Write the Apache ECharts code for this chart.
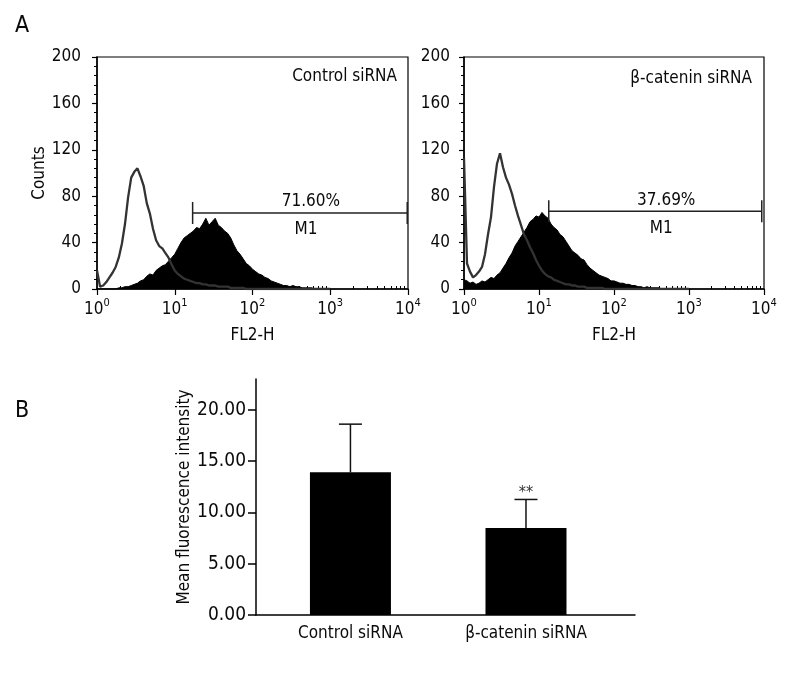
<!DOCTYPE html>
<html><head><meta charset="utf-8">
<script src="https://cdn.jsdelivr.net/npm/echarts@6/dist/echarts.min.js"></script>
<style>html,body{margin:0;padding:0;background:#fff}#c{width:800px;height:680px}</style>
</head><body><div id="c"></div>
<script>
// ---- data ----
// FL2-H bins, in log10 units (10^0 .. 10^3)
const logFL2 = [0,0.04,0.08,0.12,0.16,0.2,0.24,0.28,0.32,0.36,
  0.4,0.44,0.48,0.52,0.56,0.6,0.64,0.68,0.72,0.76,
  0.8,0.84,0.88,0.92,0.96,1,1.04,1.08,1.12,1.16,
  1.2,1.24,1.28,1.32,1.36,1.4,1.44,1.48,1.52,1.56,
  1.6,1.64,1.68,1.72,1.76,1.8,1.84,1.88,1.92,1.96,
  2,2.04,2.08,2.12,2.16,2.2,2.24,2.28,2.32,2.36,
  2.4,2.44,2.48,2.52,2.56,2.6,2.64,2.68,2.72,2.76,
  2.8,2.84,2.88,2.92,2.96,3];
// Control siRNA: open (isotype) and filled (stained) histograms
const ctrlOpen = [16,2,3,6,10,14,19,27,39,56,
  79,96,101,104,97,89,74,65,52,42,
  37,35,31,27,21,16,13,11,9,8,
  7,6,5,5,4,4,3,3,3,2,
  2,2,2,1,1,1,1,1,0,0,
  0,0,0,0,0,0,0,0,0,0,
  0,0,0,0,0,0,0,0,0,0,
  0,0,0,0,0,0];
const ctrlFilled = [0,0,0,0,0,0,0,1,1,2,
  2,3,4,5,7,8,11,13,12,16,
  18,20,21,24,27,30,35,40,44,46,
  48,50,53,52,56,61,55,58,61,55,
  53,50,48,44,38,33,30,26,22,20,
  17,15,13,12,10,9,7,6,5,4,
  3,3,2,3,2,2,1,1,1,1,
  0,0,0,0,0,0];
// beta-catenin siRNA
const catOpen = [113,22,15,10,12,15,19,30,47,62,
  88,108,117,105,96,90,82,72,63,55,
  47,42,36,31,25,20,16,13,11,10,
  8,7,6,5,4,4,3,3,2,2,
  2,1,1,1,1,1,1,0,0,0,
  0,0,0,0,0,0,0,0,0,0,
  0,0,0,0,0,0,0,0,0,0,
  0,0,0,0,0,0];
const catFilled = [8,7,5,6,4,5,7,6,8,10,
  9,12,14,18,22,27,31,37,41,45,
  49,53,58,60,63,62,66,63,61,56,
  53,51,47,45,41,37,33,31,29,26,
  25,21,18,16,14,12,11,10,9,7,
  7,6,5,5,4,4,3,3,2,2,
  1,2,1,1,1,1,0,0,0,0,
  0,0,0,0,0,0];
const panelNames = ['Control siRNA', 'β-catenin siRNA'];
// M1 gate: [from (log10), to (log10), counts level]
const m1Ranges = [[1.23, 3.99, 65.5], [1.13, 3.97, 67]];
const m1Percents = ['71.60%', '37.69%'];
const histYTicks = [0, 40, 80, 120, 160, 200];
const histXExponents = ['0', '1', '2', '3', '4'];
// Panel B
const barCategories = ['Control siRNA', 'β-catenin siRNA'];
const barMeans = [13.9, 8.48];
const barErrors = [4.7, 2.78];
const barSig = ['', '**'];
const barYTicks = [0, 5, 10, 15, 20];

// ---- chart ----
const FONT = '"Liberation Sans Narrow","DejaVu Sans Condensed","Liberation Sans",sans-serif';
const TXT = '#0a0a0a';
const minorTicks = [];
for (let d = 0; d < 4; d++) for (let k = 2; k <= 9; k++) minorTicks.push(d + Math.log10(k));
const axisLS = {color: '#000', width: 1.5};

const grids = [
  {left: 97, top: 57, width: 311, height: 232, show: true, borderColor: '#000', borderWidth: 1.2},
  {left: 464, top: 57, width: 300, height: 232, show: true, borderColor: '#000', borderWidth: 1.2},
  {left: 256, top: 379, width: 379, height: 236}
];
const xAxes = [], yAxes = [], series = [];
const histData = [[ctrlOpen, ctrlFilled], [catOpen, catFilled]];
[0, 1].forEach(p => {
  xAxes.push({type: 'value', gridIndex: p, min: 0, max: 4, interval: 1,
    axisLine: {onZero: false, lineStyle: axisLS},
    axisTick: {length: 6, lineStyle: {color: '#000', width: 1.2}},
    splitLine: {show: false},
    axisLabel: {margin: 9, color: TXT,
      formatter: v => '{b|10}{s|' + histXExponents[Math.round(v)] + '}',
      rich: {b: {fontFamily: FONT, fontSize: 17, color: TXT, lineHeight: 20, verticalAlign: 'bottom'},
             s: {fontFamily: FONT, fontSize: 11, color: TXT, lineHeight: 12, verticalAlign: 'top'}}},
    name: 'FL2-H', nameLocation: 'middle', nameGap: 38,
    nameTextStyle: {fontFamily: FONT, fontSize: 17, color: TXT}});
  xAxes.push({type: 'value', gridIndex: p, min: 0, max: 4,
    axisLine: {show: false}, axisLabel: {show: false}, splitLine: {show: false},
    axisTick: {show: true, length: 3, customValues: minorTicks, lineStyle: {color: '#000', width: 1}}});
  yAxes.push({type: 'value', gridIndex: p, min: 0, max: 200, interval: 40,
    axisLine: {show: true, onZero: false, lineStyle: axisLS},
    axisTick: {show: true, length: 5, lineStyle: {color: '#000', width: 1.2}},
    minorTick: {show: true, splitNumber: 5, length: 3, lineStyle: {color: '#000', width: 1}},
    splitLine: {show: false},
    axisLabel: {margin: p === 0 ? 16 : 14, fontFamily: FONT, fontSize: 17, color: TXT},
    name: p === 0 ? 'Counts' : '', nameLocation: 'middle', nameGap: 43,
    nameTextStyle: {fontFamily: FONT, fontSize: 17, color: TXT}});
  const [open, filled] = histData[p];
  series.push({type: 'line', xAxisIndex: p * 2, yAxisIndex: p, symbol: 'none',
    data: logFL2.map((x, i) => [x, filled[i]]),
    lineStyle: {color: '#000', width: 1}, areaStyle: {color: '#000', opacity: 1}, z: 2});
  series.push({type: 'line', xAxisIndex: p * 2, yAxisIndex: p, symbol: 'none',
    data: logFL2.map((x, i) => [x, open[i]]),
    lineStyle: {color: '#333', width: 2.3}, z: 3});
  series.push({type: 'custom', xAxisIndex: p * 2, yAxisIndex: p, z: 4,
    data: [m1Ranges[p]], encode: {x: [0, 1], y: 2},
    renderItem: (params, api) => {
      const a = api.coord([api.value(0), api.value(2)]);
      const b = api.coord([api.value(1), api.value(2)]);
      const mid = (a[0] + b[0]) / 2 + 11;
      const st = {stroke: '#222', lineWidth: 1.5};
      return {type: 'group', children: [
        {type: 'line', shape: {x1: a[0], y1: a[1], x2: b[0], y2: b[1]}, style: st},
        {type: 'line', shape: {x1: a[0], y1: a[1] - 11, x2: a[0], y2: a[1] + 11}, style: st},
        {type: 'line', shape: {x1: b[0], y1: b[1] - 11, x2: b[0], y2: b[1] + 11}, style: st},
        {type: 'text', style: {text: m1Percents[p], x: mid, y: a[1] - 11, textAlign: 'center',
          textVerticalAlign: 'middle', font: '17px ' + FONT, fill: TXT}},
        {type: 'text', style: {text: 'M1', x: mid - 5, y: a[1] + 17, textAlign: 'center',
          textVerticalAlign: 'middle', font: '17px ' + FONT, fill: TXT}}
      ]};
    }});
});
// Panel B axes
xAxes.push({type: 'value', gridIndex: 2, min: 0.462, max: 2.621,
  axisLine: {onZero: false, lineStyle: axisLS}, axisTick: {show: false}, splitLine: {show: false},
  axisLabel: {customValues: [1, 2], formatter: v => barCategories[Math.round(v) - 1],
    margin: 10, fontFamily: FONT, fontSize: 17, color: TXT}});
yAxes.push({type: 'value', gridIndex: 2, min: 0, max: 23,
  axisLine: {show: true, onZero: false, lineStyle: axisLS},
  axisTick: {show: true, length: 8, customValues: barYTicks, lineStyle: {color: '#000', width: 1.5}},
  axisLabel: {customValues: barYTicks, formatter: v => v.toFixed(2), margin: 10,
    fontFamily: FONT, fontSize: 19, color: TXT},
  splitLine: {show: false},
  name: 'Mean fluorescence intensity', nameLocation: 'middle', nameGap: 55,
  nameTextStyle: {fontFamily: FONT, fontSize: 17, color: TXT}});
series.push({type: 'bar', xAxisIndex: 4, yAxisIndex: 2, barWidth: 81,
  data: barMeans.map((m, i) => [i + 1, m]), itemStyle: {color: '#000'}, z: 2});
series.push({type: 'custom', xAxisIndex: 4, yAxisIndex: 2, z: 3,
  data: barMeans.map((m, i) => [i + 1, m, barErrors[i], i]), encode: {x: 0, y: 1},
  renderItem: (params, api) => {
    const x = api.value(0), m = api.value(1), e = api.value(2), idx = api.value(3);
    const p0 = api.coord([x, m]), p1 = api.coord([x, m + e]);
    const st = {stroke: '#111', lineWidth: 1.5};
    const ch = [
      {type: 'line', shape: {x1: p0[0], y1: p0[1], x2: p1[0], y2: p1[1]}, style: st},
      {type: 'line', shape: {x1: p1[0] - 11.5, y1: p1[1], x2: p1[0] + 11.5, y2: p1[1]}, style: st}
    ];
    if (barSig[idx]) ch.push({type: 'text', style: {text: barSig[idx], x: p1[0], y: p1[1] + 1,
      textAlign: 'center', textVerticalAlign: 'bottom', font: '16px ' + FONT, fill: '#333'}});
    return {type: 'group', children: ch};
  }});

const chart = echarts.init(document.getElementById('c'), null, {renderer: 'canvas'});
chart.setOption({
  animation: false,
  backgroundColor: '#fff',
  textStyle: {fontFamily: FONT},
  grid: grids, xAxis: xAxes, yAxis: yAxes, series: series,
  graphic: [
    {type: 'text', left: 15, top: 15, style: {text: 'A', font: '23px ' + FONT, fill: TXT}},
    {type: 'text', left: 15, top: 400, style: {text: 'B', font: '23px ' + FONT, fill: TXT}},
    {type: 'text', style: {text: panelNames[0], x: 397, y: 77, textAlign: 'right', textVerticalAlign: 'middle', font: '17px ' + FONT, fill: TXT}},
    {type: 'text', style: {text: panelNames[1], x: 752, y: 79, textAlign: 'right', textVerticalAlign: 'middle', font: '17px ' + FONT, fill: TXT}}
  ]
});
</script></body></html>
